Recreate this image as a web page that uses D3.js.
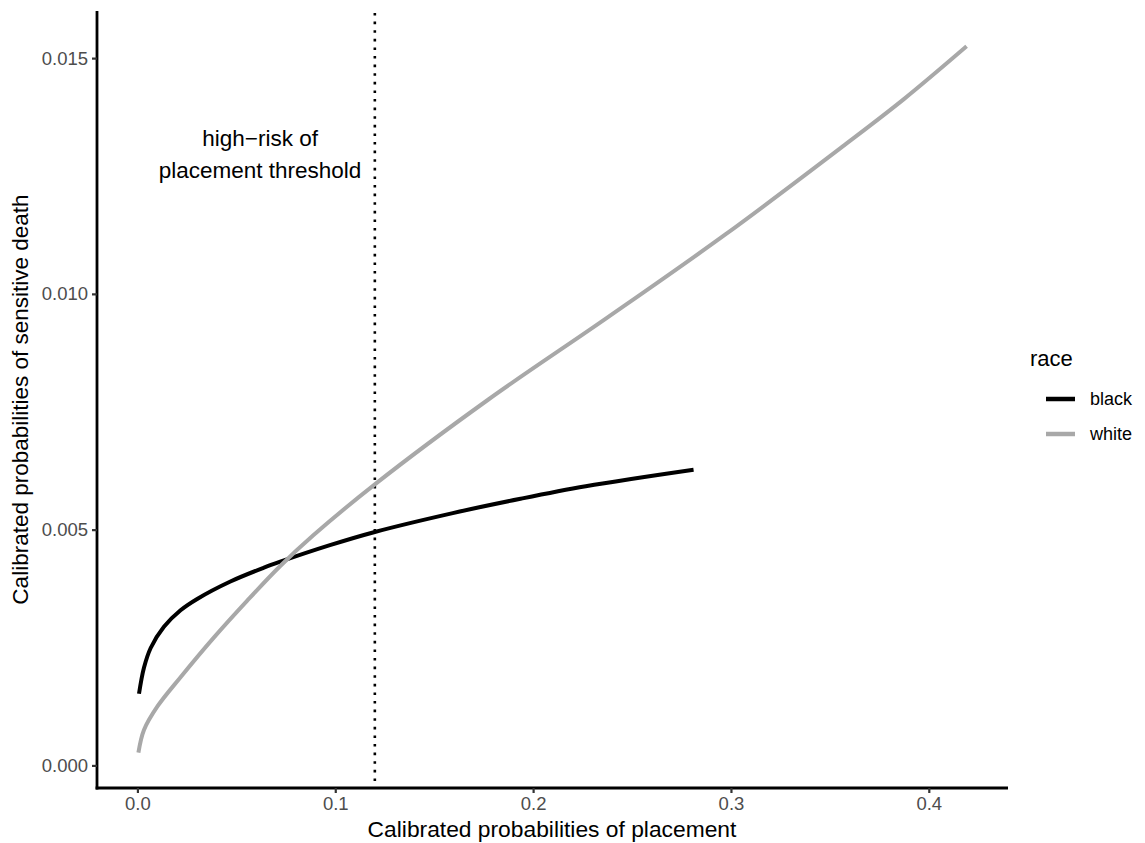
<!DOCTYPE html>
<html>
<head>
<meta charset="utf-8">
<script src="https://cdn.jsdelivr.net/npm/d3@7"></script>
<style>
  body { margin: 0; background: #fff; }
  text { font-family: "Liberation Sans", Arial, sans-serif; }
</style>
</head>
<body>
<div id="chart"></div>
<script>
// values
let black_x = [0.0008, 0.0033, 0.0067, 0.0134, 0.0218, 0.0302, 0.0470, 0.0637, 0.0722, 0.0973, 0.120, 0.1594, 0.1930, 0.2266, 0.2811];
let black_y = [0.00152, 0.00207, 0.00249, 0.00294, 0.00329, 0.00353, 0.00390, 0.00419, 0.00432, 0.00467, 0.00495, 0.00535, 0.00565, 0.00592, 0.00627];
let white_x = [0.0005, 0.0033, 0.0101, 0.0218, 0.0386, 0.0554, 0.0722, 0.0889, 0.120, 0.1774, 0.2373, 0.2972, 0.3572, 0.3874, 0.4191];
let white_y = [0.00027, 0.00075, 0.00125, 0.00187, 0.00271, 0.00349, 0.00423, 0.00488, 0.00596, 0.00776, 0.00949, 0.01126, 0.01315, 0.01413, 0.01525];
let races = ["black", "white"];
let race_colors = ["#000000", "#A8A8A8"];
let x_ticks = [0.0, 0.1, 0.2, 0.3, 0.4];
let y_ticks = [0.000, 0.005, 0.010, 0.015];
let threshold = 0.12;
let note_lines = ["high\u2212risk of", "placement threshold"];
let note_x = 0.062;
let note_y = 0.0130;

let panel = {left: 97, right: 1008, top: 11, bottom: 788};

let series = [
  {race: "black", values: black_x.map((x, i) => ({x: x, y: black_y[i]}))},
  {race: "white", values: white_x.map((x, i) => ({x: x, y: white_y[i]}))}
];

// ggplot style 5% expansion of the data range
function expand(ext) {
  let pad = (ext[1] - ext[0]) * 0.05;
  return [ext[0] - pad, ext[1] + pad];
}
let all_x = black_x.concat(white_x);
let all_y = black_y.concat(white_y);

let svg = d3.select("#chart")
            .append("svg")
            .attr("width", 1145)
            .attr("height", 843);

let x = d3.scaleLinear()
          .domain(expand(d3.extent(all_x)))
          .range([panel.left, panel.right]);

let y = d3.scaleLinear()
          .domain(expand(d3.extent(all_y)))
          .range([panel.bottom, panel.top]);

let color = d3.scaleOrdinal()
              .domain(races)
              .range(race_colors);

// threshold line
svg.append("line")
   .attr("x1", x(threshold))
   .attr("x2", x(threshold))
   .attr("y1", panel.top + 2)
   .attr("y2", panel.bottom)
   .attr("stroke", "#000")
   .attr("stroke-width", 2.6)
   .attr("stroke-dasharray", "2.6 6");

let line = d3.line()
             .x(d => x(d.x))
             .y(d => y(d.y))
             .curve(d3.curveCatmullRom.alpha(0.5));

svg.append("g")
   .selectAll("path")
   .data(series)
   .enter().append("path")
   .attr("d", d => line(d.values))
   .attr("fill", "none")
   .attr("stroke", d => color(d.race))
   .attr("stroke-width", 4)
   .attr("stroke-linecap", "butt");

// annotation
svg.append("text")
   .attr("x", x(note_x))
   .attr("y", y(note_y))
   .attr("text-anchor", "middle")
   .style("font-size", "22.5px")
   .style("fill", "#000")
   .selectAll("tspan")
   .data(note_lines)
   .enter().append("tspan")
   .attr("x", x(note_x))
   .attr("dy", (d, i) => i == 0 ? "-0.3em" : "1.42em")
   .text(d => d);

// axes
let xAxis = svg.append("g")
   .attr("transform", "translate(0," + panel.bottom + ")")
   .call(d3.axisBottom(x).tickValues(x_ticks).tickFormat(d3.format(".1f")).tickSize(5).tickSizeOuter(0));

let yAxis = svg.append("g")
   .attr("transform", "translate(" + panel.left + ",0)")
   .call(d3.axisLeft(y).tickValues(y_ticks).tickFormat(d3.format(".3f")).tickSize(5).tickSizeOuter(0));

[xAxis, yAxis].forEach(g => {
  g.select(".domain").attr("stroke", "#000").attr("stroke-width", 2.8);
  g.selectAll(".tick line").attr("stroke", "#333").attr("stroke-width", 2.2);
  g.selectAll(".tick text")
   .style("font-size", "18.5px")
   .style("fill", "#4D4D4D")
   .style("font-family", "'Liberation Sans', Arial, sans-serif");
});
xAxis.select(".domain").attr("d", "M" + (panel.left - 1.4) + ",0H" + panel.right);
yAxis.select(".domain").attr("d", "M0," + panel.top + "V" + (panel.bottom + 1.4));
xAxis.selectAll(".tick text").attr("y", 9).attr("dy", "0.71em");
yAxis.selectAll(".tick text").attr("x", -9);

svg.append("text")
   .attr("x", 552)
   .attr("y", 837)
   .attr("text-anchor", "middle")
   .style("font-size", "22.8px")
   .text("Calibrated probabilities of placement");

svg.append("text")
   .attr("transform", "translate(28," + ((panel.top + panel.bottom) / 2) + ") rotate(-90)")
   .attr("text-anchor", "middle")
   .style("font-size", "22.5px")
   .text("Calibrated probabilities of sensitive death");

// legend
let legend = svg.append("g")
                .attr("transform", "translate(1030,0)");
legend.append("text")
      .attr("x", 0)
      .attr("y", 366)
      .style("font-size", "22px")
      .text("race");

let keys = legend.selectAll(".legend")
                 .data(races)
                 .enter().append("g")
                 .attr("class", "legend")
                 .attr("transform", (d, i) => "translate(0," + (399 + i * 35) + ")");
keys.append("line")
    .attr("x1", 16)
    .attr("x2", 45)
    .attr("stroke", d => color(d))
    .attr("stroke-width", 4.5);
keys.append("text")
    .attr("x", 60)
    .attr("dy", "0.36em")
    .style("font-size", "18px")
    .text(d => d);
</script>
</body>
</html>
